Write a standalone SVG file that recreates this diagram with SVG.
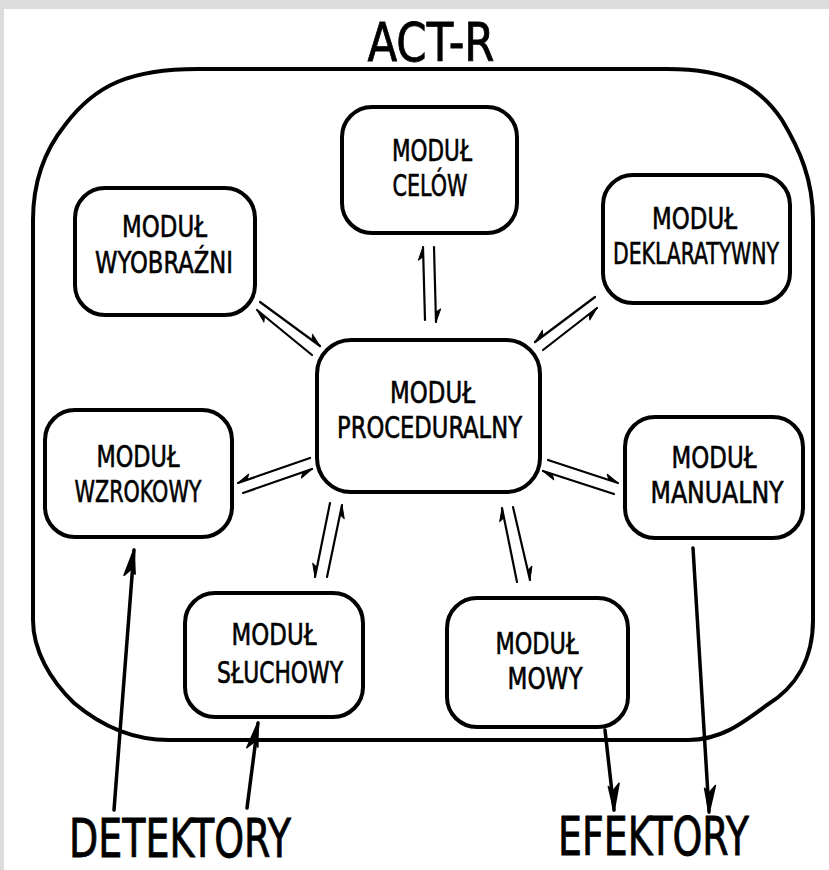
<svg xmlns="http://www.w3.org/2000/svg" width="829" height="870" viewBox="0 0 829 870">
<style>
.bx{fill:#fff;stroke:#000;stroke-width:4;stroke-linejoin:round}
.t{font-family:"Liberation Sans Narrow","DejaVu Sans Condensed","Liberation Sans",sans-serif;font-size:31px;text-anchor:middle;fill:#000;stroke:#000;stroke-width:0.6}
.big{font-size:54px;stroke-width:0.8}
.h{fill:none;stroke:#000;stroke-width:2.2;stroke-linecap:round}
.a{fill:none;stroke:#000;stroke-width:3.5;stroke-linecap:round}
</style>
<defs>
<marker id="hl" markerUnits="userSpaceOnUse" orient="auto" refX="0" refY="0" markerWidth="30" markerHeight="30" overflow="visible"><path d="M0 0 L-13 -5 L-10 -0.5 Z" fill="#000" stroke="#000" stroke-width="1" stroke-linejoin="round"/></marker>
<marker id="hr" markerUnits="userSpaceOnUse" orient="auto" refX="0" refY="0" markerWidth="30" markerHeight="30" overflow="visible"><path d="M0 0 L-13 5 L-10 0.5 Z" fill="#000" stroke="#000" stroke-width="1" stroke-linejoin="round"/></marker>
<marker id="ah" markerUnits="userSpaceOnUse" orient="auto" refX="0" refY="0" markerWidth="40" markerHeight="40" overflow="visible"><path d="M1 0 L-26 -8 L-19 -1 L-24 3 Z" fill="#000" stroke="#000" stroke-width="1.5" stroke-linejoin="round"/></marker>
</defs>
<rect x="0" y="0" width="829" height="870" fill="#dcdcdc"/>
<rect x="4" y="9" width="825" height="861" fill="#fff"/>
<g id="title"><text class="t big" x="431" y="61" textLength="127" lengthAdjust="spacingAndGlyphs">ACT-R</text></g>
<g id="act-r"><path d="M198 69 L667 69 C730 69 760 87 782 120 C800 150 813 180 813 220 L813 620 C813 660 795 688 767 705 C740 725 720 740 688 740 L169 740 C130 740 100 725 74 703 C50 680 33 650 33 620 L33 220 C33 180 45 150 65 125 C95 85 130 69 198 69 Z" fill="none" stroke="#000" stroke-width="4"/></g>
<g id="celow"><rect class="bx" x="342" y="107" width="175" height="126" rx="30"/><text class="t" x="432" y="161" textLength="80" lengthAdjust="spacingAndGlyphs">MODUŁ</text><text class="t" x="430" y="196" textLength="75" lengthAdjust="spacingAndGlyphs">CELÓW</text></g>
<g id="wyobrazni"><rect class="bx" x="75" y="188" width="180" height="127" rx="30"/><text class="t" x="164.5" y="237" textLength="85" lengthAdjust="spacingAndGlyphs">MODUŁ</text><text class="t" x="164" y="273" textLength="138" lengthAdjust="spacingAndGlyphs">WYOBRAŹNI</text></g>
<g id="deklaratywny"><rect class="bx" x="603" y="175" width="187" height="128" rx="30"/><text class="t" x="694.5" y="229" textLength="85" lengthAdjust="spacingAndGlyphs">MODUŁ</text><text class="t" x="696" y="264" textLength="166" lengthAdjust="spacingAndGlyphs">DEKLARATYWNY</text></g>
<g id="proceduralny"><rect class="bx" x="317" y="340" width="223" height="152" rx="34"/><text class="t" x="432.5" y="403" textLength="85" lengthAdjust="spacingAndGlyphs">MODUŁ</text><text class="t" x="429.5" y="438" textLength="185" lengthAdjust="spacingAndGlyphs">PROCEDURALNY</text></g>
<g id="wzrokowy"><rect class="bx" x="45" y="410" width="187" height="127" rx="30"/><text class="t" x="138" y="467" textLength="83" lengthAdjust="spacingAndGlyphs">MODUŁ</text><text class="t" x="138" y="502" textLength="127" lengthAdjust="spacingAndGlyphs">WZROKOWY</text></g>
<g id="manualny"><rect class="bx" x="625" y="417" width="178" height="121" rx="30"/><text class="t" x="714" y="468" textLength="85" lengthAdjust="spacingAndGlyphs">MODUŁ</text><text class="t" x="717" y="503" textLength="133" lengthAdjust="spacingAndGlyphs">MANUALNY</text></g>
<g id="sluchowy"><rect class="bx" x="185" y="593" width="178" height="124" rx="30"/><text class="t" x="274" y="645" textLength="85" lengthAdjust="spacingAndGlyphs">MODUŁ</text><text class="t" x="280" y="683" textLength="126" lengthAdjust="spacingAndGlyphs">SŁUCHOWY</text></g>
<g id="mowy"><rect class="bx" x="447" y="598" width="181" height="129" rx="30"/><text class="t" x="537" y="654" textLength="83" lengthAdjust="spacingAndGlyphs">MODUŁ</text><text class="t" x="545" y="689" textLength="75" lengthAdjust="spacingAndGlyphs">MOWY</text></g>
<g id="detektory"><text class="t big" x="180" y="857" textLength="222" lengthAdjust="spacingAndGlyphs">DETEKTORY</text></g>
<g id="efektory"><text class="t big" x="653.5" y="855" textLength="191" lengthAdjust="spacingAndGlyphs">EFEKTORY</text></g>
<g id="connectors">
<path class="h" d="M425 320 L423 247" marker-end="url(#hl)"/>
<path class="h" d="M434 247 L436 322" marker-end="url(#hl)"/>
<path class="h" d="M260 302 L320 346" marker-end="url(#hl)"/>
<path class="h" d="M312 355 L257 310" marker-end="url(#hl)"/>
<path class="h" d="M595 297 L535 342" marker-end="url(#hr)"/>
<path class="h" d="M543 350 L597 308" marker-end="url(#hr)"/>
<path class="h" d="M310 458 L238 483" marker-end="url(#hr)"/>
<path class="h" d="M243 493 L312 469" marker-end="url(#hr)"/>
<path class="h" d="M330 503 L315 577" marker-end="url(#hr)"/>
<path class="h" d="M327 577 L342 505" marker-end="url(#hr)"/>
<path class="h" d="M517 582 L502 508" marker-end="url(#hl)"/>
<path class="h" d="M513 507 L530 580" marker-end="url(#hl)"/>
<path class="h" d="M548 460 L618 483" marker-end="url(#hl)"/>
<path class="h" d="M614 494 L543 471" marker-end="url(#hl)"/>
<path class="a" d="M114 810 L134 550" marker-end="url(#ah)"/>
<path class="a" d="M247 808 L258 723" marker-end="url(#ah)"/>
<path class="a" d="M605 730 L614 810" marker-end="url(#ah)"/>
<path class="a" d="M693 548 L709 812" marker-end="url(#ah)"/>
</g>
</svg>
